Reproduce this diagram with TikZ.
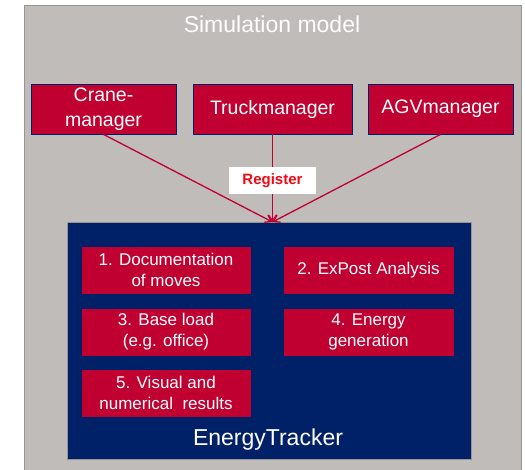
\documentclass[tikz,border=0pt]{standalone}
\usepackage{fontspec}
\setmainfont{Liberation Sans}
\usetikzlibrary{arrows.meta}
\definecolor{simgray}{RGB}{192,188,186}
\definecolor{simgrayedge}{RGB}{150,148,148}
\definecolor{boxred}{RGB}{192,0,48}
\definecolor{navy}{RGB}{0,33,103}
\definecolor{regred}{RGB}{240,10,20}
\tikzset{
  redbox/.style={draw=navy, line width=0.8pt, fill=boxred, text=white, inner sep=0pt, align=center},
  mgrbox/.style={redbox, minimum width=145pt, minimum height=50pt, font=\fontsize{19.5}{25}\selectfont},
  trkbox/.style={redbox, minimum width=159pt, minimum height=50pt, font=\fontsize{19.5}{25}\selectfont},
  taskbox/.style={redbox, minimum width=170pt, minimum height=48pt, font=\fontsize{17}{21}\selectfont},
  conn/.style={draw=boxred, line width=1.3pt, -{Straight Barb[length=6pt,width=8pt]}},
}
\begin{document}
\begin{tikzpicture}[x=1pt,y=-1pt]
\useasboundingbox (0,0) rectangle (525,469);
% outer simulation model frame
\node[draw=simgrayedge, line width=1pt, fill=simgray, minimum width=497pt, minimum height=480pt, inner sep=0pt, anchor=north west] (sim) at (24,5) {};
\node[text=white, font=\fontsize{23}{26}\selectfont] (title) at (272,24) {Simulation model};
% managers
\node[mgrbox] (crane) at (103.5,109) {Crane-\\manager};
\node[trkbox] (truck) at (272.5,109) {Truckmanager};
\node[mgrbox] (agv) at (440.5,109) {AGVmanager};
% energy tracker
\node[draw=simgrayedge, line width=0.6pt, fill=navy, minimum width=404pt, minimum height=237pt, inner sep=0pt, anchor=north west] (et) at (67,222) {};
\coordinate (tip) at (272.5,222);
\draw[conn] (crane.south) -- (tip);
\draw[conn] (truck.south) -- (tip);
\draw[conn] (agv.south) -- (tip);
\node[fill=white, minimum width=87pt, minimum height=27pt, inner sep=0pt, text=regred, font=\fontsize{15}{17}\selectfont\bfseries] (reg) at (272.5,180.5) {Register};
% tasks
\node[taskbox] (t1) at (166,270) {1. Documentation\\of moves};
\node[taskbox, minimum width=171pt] (t2) at (368.5,270) {2. ExPost Analysis};
\node[taskbox] (t3) at (166,332) {3. Base load\\(e.g. office)};
\node[taskbox, minimum width=171pt] (t4) at (368.5,332) {4. Energy\\generation};
\node[taskbox] (t5) at (166,393) {5. Visual and\\numerical\ \ results};
\node[text=white, font=\fontsize{23}{26}\selectfont] (etlabel) at (268,440) {EnergyTracker};
\end{tikzpicture}
\end{document}
